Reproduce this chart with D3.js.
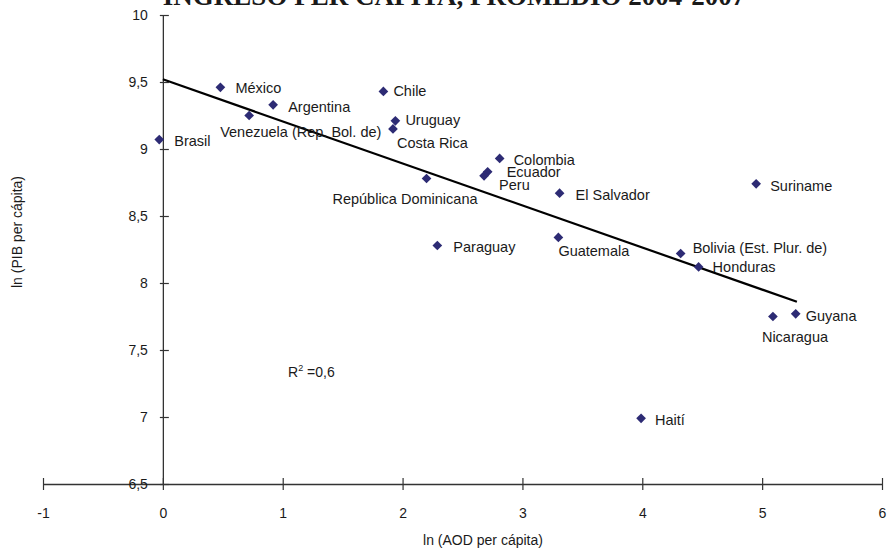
<!DOCTYPE html>
<html><head><meta charset="utf-8">
<script src="https://cdn.jsdelivr.net/npm/d3@7"></script>
<style>
html,body{margin:0;padding:0;background:#fff;}
text{font-family:"Liberation Sans",Arial,sans-serif;fill:#1a1a1a;}
</style></head>
<body><svg id="c" width="887" height="553"></svg>
<script>
const countries = ["Brasil","México","Venezuela (Rep. Bol. de)","Argentina","Chile","Uruguay","Costa Rica","Colombia","Ecuador","Peru","República Dominicana","El Salvador","Paraguay","Guatemala","Suriname","Bolivia (Est. Plur. de)","Honduras","Guyana","Nicaragua","Haití"];
const lnAOD = [-0.03,0.48,0.72,0.92,1.84,1.94,1.92,2.81,2.71,2.68,2.20,3.31,2.29,3.30,4.95,4.32,4.47,5.28,5.09,3.99];
const lnPIB = [9.07,9.46,9.25,9.33,9.43,9.21,9.15,8.93,8.83,8.80,8.78,8.67,8.28,8.34,8.74,8.22,8.12,7.77,7.75,6.99];
const trendX = [0, 5.29];
const trendY = [9.52, 7.86];
const xTicks = [-1,0,1,2,3,4,5,6];
const yTicks = [6.5,7,7.5,8,8.5,9,9.5,10];
const title = "INGRESO PER CÁPITA, PROMEDIO 2004-2007";
const xTitle = "ln (AOD per cápita)";
const yTitle = "ln (PIB per cápita)";
const r2Text = "0,6";

// label placement (layout only): [dx, dy, anchor]
const labelPos = {
  "Brasil":[15,1,"start"],"México":[15,1,"start"],"Venezuela (Rep. Bol. de)":[-29,16,"start"],
  "Argentina":[15,2,"start"],"Chile":[10,0,"start"],"Uruguay":[10,-1,"start"],"Costa Rica":[4,14,"start"],
  "Colombia":[14,2,"start"],"Ecuador":[19,0,"start"],"Peru":[15,9,"start"],"República Dominicana":[51,20,"end"],
  "El Salvador":[16,2,"start"],"Paraguay":[16,1,"start"],"Guatemala":[0,13,"start"],"Suriname":[14,2,"start"],
  "Bolivia (Est. Plur. de)":[12,-6,"start"],"Honduras":[14,0,"start"],"Guyana":[10,2,"start"],"Nicaragua":[-11,20,"start"],
  "Haití":[14,2,"start"]
};

const svg = d3.select("#c");
const x = d3.scaleLinear().domain([-1,6]).range([43,882]);
const y = d3.scaleLinear().domain([6.5,10]).range([484,15]);
const fmt = d => String(d).replace(".", ",");

// axes
const xAxis = svg.append("g").attr("transform",`translate(0,${y(6.5)})`)
  .call(d3.axisBottom(x).tickValues(xTicks).tickSize(0).tickFormat(fmt));
xAxis.select(".domain").attr("stroke","#333").attr("stroke-width",1.3);
xAxis.selectAll(".tick line").attr("y1",-6).attr("y2",6).attr("stroke","#333").attr("stroke-width",1.2);
xAxis.selectAll(".tick text").attr("y",24).attr("font-size",14).style("font-family","Liberation Sans, Arial").attr("fill","#1a1a1a");

const yAxis = svg.append("g").attr("transform",`translate(${x(0)},0)`)
  .call(d3.axisLeft(y).tickValues(yTicks).tickSize(0).tickFormat(fmt));
yAxis.select(".domain").attr("stroke","#333").attr("stroke-width",1.3);
yAxis.selectAll(".tick line").attr("x1",-3).attr("x2",6).attr("stroke","#333").attr("stroke-width",1.2);
yAxis.selectAll(".tick text").attr("x",-15).attr("font-size",14).style("font-family","Liberation Sans, Arial").attr("fill","#1a1a1a");

// trend line
svg.append("line").attr("x1",x(trendX[0])).attr("y1",y(trendY[0]))
  .attr("x2",x(trendX[1])).attr("y2",y(trendY[1]))
  .attr("stroke","#000").attr("stroke-width",2.2);

// points
const data = countries.map((c,i)=>({c, x:lnAOD[i], y:lnPIB[i]}));
svg.append("g").selectAll("path").data(data).join("path")
  .attr("d", d3.symbol().type(d3.symbolDiamond2).size(60))
  .attr("transform", d=>`translate(${x(d.x)},${y(d.y)})`)
  .attr("fill","#2d2b74");

svg.append("g").selectAll("text").data(data).join("text")
  .attr("x", d=>x(d.x)+labelPos[d.c][0])
  .attr("y", d=>y(d.y)+labelPos[d.c][1])
  .attr("dy","0.35em")
  .attr("text-anchor", d=>labelPos[d.c][2])
  .attr("font-size",14.5)
  .text(d=>d.c);

// R2
const r2 = svg.append("text").attr("x",288).attr("y",377).attr("font-size",14);
r2.append("tspan").text("R");
r2.append("tspan").attr("dy",-6).attr("font-size",9).text("2");
r2.append("tspan").attr("dy",6).text(" =" + r2Text);

// titles
svg.append("text").attr("x",454).attr("y",5).attr("text-anchor","middle")
  .style("font-family","Liberation Serif, Times New Roman, serif").attr("font-weight","bold")
  .attr("font-size",27).attr("fill","#000").text(title);
svg.append("text").attr("x",483).attr("y",545).attr("text-anchor","middle").attr("font-size",14).text(xTitle);
svg.append("text").attr("transform","translate(22,232) rotate(-90)").attr("text-anchor","middle").attr("font-size",14).text(yTitle);
</script></body></html>
